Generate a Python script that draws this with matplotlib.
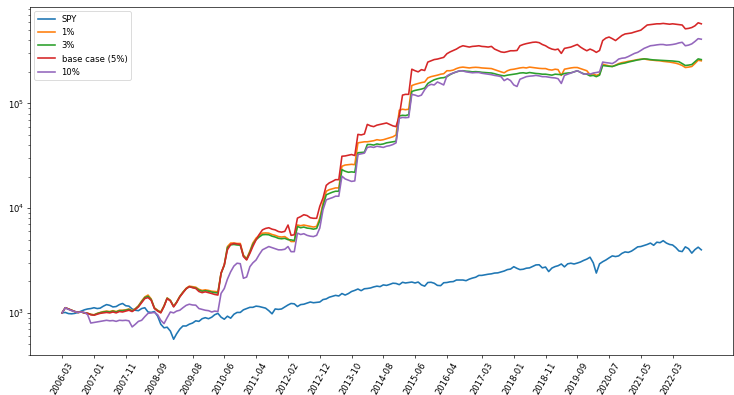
import matplotlib

matplotlib.use("Agg")

import matplotlib.pyplot as plt
import pandas as pd

# Month-start sample dates, 2006-03 through 2022-12
months = pd.date_range("2006-03-01", "2022-12-01", freq="MS")

# Portfolio values, one row per calendar year (2006 starts in March)
spy = [
    1000, 1010, 985, 980, 990, 1010, 1040, 1070, 1090, 1100,
    1120, 1100, 1110, 1160, 1200, 1180, 1140, 1150, 1200, 1230, 1170, 1160,
    1090, 1060, 1050, 1100, 1120, 1020, 1010, 1030, 930, 780, 720, 730,
    670, 560, 630, 700, 750, 750, 780, 800, 840, 830, 880, 900,
    880, 910, 960, 990, 910, 870, 930, 890, 970, 1010, 1010, 1070,
    1100, 1130, 1130, 1160, 1150, 1130, 1110, 1050, 980, 1090, 1080, 1090,
    1140, 1190, 1230, 1220, 1150, 1200, 1210, 1240, 1270, 1250, 1260, 1270,
    1340, 1360, 1410, 1440, 1470, 1450, 1530, 1480, 1530, 1600, 1640, 1690,
    1630, 1700, 1710, 1730, 1770, 1800, 1780, 1850, 1830, 1870, 1920, 1910,
    1860, 1960, 1930, 1950, 1970, 1930, 1970, 1850, 1800, 1950, 1960, 1920,
    1830, 1820, 1940, 1950, 1980, 1990, 2060, 2060, 2060, 2030, 2100, 2150,
    2190, 2280, 2280, 2310, 2340, 2360, 2400, 2410, 2460, 2510, 2590, 2620,
    2760, 2660, 2590, 2610, 2670, 2690, 2780, 2870, 2880, 2690, 2740, 2480,
    2680, 2770, 2820, 2930, 2750, 2940, 2980, 2930, 2990, 3060, 3170, 3260,
    3400, 3000, 2400, 2940, 3080, 3200, 3350, 3500, 3450, 3500, 3700, 3820,
    3780, 3890, 4060, 4270, 4300, 4400, 4500, 4640, 4420, 4730, 4680, 4890,
    4640, 4500, 4450, 4200, 3900, 3850, 4270, 4100, 3720, 4020, 4240, 4000,
]

tax_1 = [
    1000, 1120, 1090, 1060, 1030, 1010, 1020, 1000, 990, 970,
    960, 990, 1010, 1030, 1040, 1030, 1050, 1030, 1060, 1060, 1070, 1090,
    1050, 1100, 1170, 1300, 1420, 1480, 1360, 1120, 1060, 1020, 1170, 1390,
    1320, 1160, 1270, 1440, 1580, 1720, 1800, 1780, 1760, 1680, 1640, 1660,
    1640, 1610, 1600, 1590, 2400, 2900, 4300, 4640, 4650, 4600, 4600, 3570,
    3300, 3900, 4640, 5170, 5500, 5770, 5800, 5770, 5600, 5500, 5350, 5300,
    5350, 5100, 4800, 4800, 6900, 6800, 6900, 6800, 6700, 6600, 6700, 8030,
    11200, 14500, 15000, 15300, 15600, 15600, 25100, 25800, 26000, 26200, 26000, 42000,
    42500, 43000, 43000, 43500, 44000, 45000, 44500, 45000, 46000, 47000, 48000, 50000,
    86000, 88000, 87000, 88000, 148000, 152000, 155000, 158000, 160000, 175000, 180000, 183000,
    186000, 190000, 192000, 205000, 205000, 208000, 215000, 220000, 222000, 220000, 218000, 220000,
    221000, 220000, 218000, 217000, 216000, 215000, 210000, 205000, 200000, 196000, 205000, 210000,
    212000, 215000, 218000, 220000, 218000, 222000, 220000, 218000, 216000, 215000, 215000, 210000,
    208000, 212000, 210000, 185000, 212000, 215000, 218000, 220000, 220000, 215000, 210000, 205000,
    188000, 192000, 185000, 190000, 237000, 232000, 228000, 225000, 232000, 240000, 245000, 248000,
    252000, 255000, 258000, 262000, 264000, 266000, 262000, 260000, 258000, 256000, 255000, 252000,
    250000, 248000, 245000, 242000, 237000, 230000, 220000, 222000, 225000, 240000, 258000, 255000,
]

tax_3 = [
    1000, 1120, 1090, 1060, 1030, 1010, 1020, 1000, 990, 965,
    955, 985, 1005, 1020, 1030, 1020, 1040, 1020, 1050, 1050, 1060, 1080,
    1040, 1090, 1160, 1280, 1400, 1440, 1340, 1110, 1050, 1010, 1160, 1380,
    1310, 1150, 1260, 1430, 1570, 1700, 1780, 1750, 1730, 1650, 1610, 1630,
    1610, 1580, 1560, 1550, 2380, 2850, 4200, 4460, 4500, 4450, 4430, 3500,
    3250, 3800, 4500, 5000, 5300, 5570, 5600, 5570, 5400, 5300, 5150, 5100,
    5150, 5000, 4980, 4900, 6680, 6500, 6600, 6450, 6400, 6300, 6400, 7600,
    10500, 13400, 13800, 14200, 14500, 14500, 23300, 22500, 22000, 22200, 22000, 33800,
    34000, 34200, 40500, 40500, 40000, 41000, 40500, 41000, 42000, 42500, 43000, 43500,
    75800, 77000, 76500, 78000, 130000, 133000, 135000, 137000, 140000, 155000, 162000, 168000,
    172000, 175000, 176000, 180000, 188000, 195000, 200000, 204000, 205000, 203000, 202000, 200000,
    201000, 200000, 198000, 197000, 196000, 195000, 192000, 188000, 185000, 183000, 186000, 188000,
    190000, 192000, 195000, 196000, 194000, 197000, 195000, 193000, 192000, 190000, 190000, 188000,
    186000, 190000, 189000, 188000, 193000, 195000, 196000, 200000, 205000, 198000, 192000, 190000,
    183000, 185000, 180000, 186000, 230000, 228000, 226000, 225000, 230000, 236000, 240000, 243000,
    248000, 252000, 256000, 260000, 263000, 266000, 265000, 262000, 260000, 259000, 258000, 257000,
    256000, 255000, 254000, 252000, 250000, 240000, 230000, 232000, 235000, 250000, 266000, 262000,
]

tax_5 = [
    1000, 1120, 1090, 1060, 1030, 1010, 1020, 1000, 990, 960,
    950, 970, 990, 1000, 1010, 1000, 1020, 1000, 1030, 1020, 1040, 1060,
    1030, 1080, 1140, 1250, 1370, 1400, 1320, 1100, 1040, 1000, 1150, 1370,
    1300, 1140, 1250, 1420, 1550, 1700, 1780, 1740, 1710, 1600, 1560, 1590,
    1560, 1530, 1500, 1480, 2390, 2870, 4000, 4500, 4600, 4550, 4500, 3450,
    3200, 3700, 4300, 4980, 5600, 6200, 6400, 6500, 6300, 6200, 5980, 5900,
    6000, 6900, 5500, 5570, 8030, 8300, 8650, 8500, 8100, 8000, 8000, 10400,
    12500, 16500, 17400, 18000, 18700, 18700, 31300, 31500, 32000, 32500, 31800, 50600,
    50000, 51000, 63000, 61000, 60000, 62000, 63000, 64000, 65000, 63000, 61000, 60000,
    76000, 120000, 122000, 122000, 212000, 205000, 200000, 210000, 206000, 248000, 255000, 262000,
    265000, 270000, 275000, 298000, 310000, 320000, 330000, 345000, 355000, 350000, 345000, 350000,
    352000, 355000, 350000, 348000, 345000, 350000, 330000, 320000, 310000, 307000, 312000, 318000,
    318000, 320000, 355000, 365000, 372000, 378000, 383000, 385000, 380000, 365000, 355000, 340000,
    330000, 325000, 330000, 300000, 335000, 340000, 345000, 355000, 365000, 345000, 330000, 318000,
    330000, 320000, 307000, 320000, 398000, 420000, 430000, 415000, 398000, 420000, 445000, 460000,
    465000, 470000, 480000, 490000, 500000, 530000, 560000, 565000, 570000, 575000, 575000, 580000,
    575000, 570000, 575000, 570000, 565000, 560000, 515000, 520000, 530000, 550000, 588000, 575000,
]

tax_10 = [
    1000, 1120, 1080, 1050, 1030, 1010, 1020, 1010, 960, 800,
    810, 820, 830, 840, 850, 840, 845, 830, 850, 845, 850, 840,
    735, 780, 830, 850, 920, 990, 1000, 1010, 960, 850, 790, 900,
    1020, 1000, 1040, 1060, 1120, 1180, 1210, 1190, 1185, 1100, 1080, 1060,
    1050, 1020, 1040, 1030, 1535, 1710, 2100, 2470, 2800, 2980, 2950, 2140,
    2200, 2760, 3000, 3200, 3600, 4000, 4150, 4300, 4200, 4100, 4000, 4000,
    4050, 4300, 3840, 3840, 5770, 5600, 5700, 5500, 5400, 5350, 5500, 6450,
    9640, 12000, 12300, 12600, 13000, 13000, 20200, 19000, 18500, 18000, 18200, 32500,
    33000, 33500, 38000, 38500, 38000, 39000, 38500, 38000, 39000, 39500, 40500, 42000,
    72000, 73500, 73000, 73500, 122000, 120000, 117000, 120000, 135000, 147000, 152000, 150000,
    160000, 155000, 150000, 183000, 190000, 195000, 200000, 205000, 204000, 200000, 198000, 196000,
    197000, 197000, 194000, 192000, 190000, 188000, 185000, 183000, 180000, 165000, 172000, 165000,
    150000, 145000, 170000, 175000, 180000, 182000, 183000, 185000, 183000, 180000, 180000, 178000,
    176000, 175000, 172000, 155000, 185000, 190000, 195000, 200000, 205000, 198000, 190000, 192000,
    190000, 195000, 197000, 200000, 248000, 245000, 243000, 240000, 250000, 265000, 270000, 272000,
    280000, 290000, 300000, 307000, 320000, 335000, 345000, 355000, 358000, 362000, 365000, 365000,
    360000, 362000, 365000, 370000, 378000, 383000, 355000, 360000, 370000, 390000, 415000, 410000,
]

tick_labels = [
    "2006-03", "2007-01", "2007-11", "2008-09", "2009-08", "2010-06", "2011-04",
    "2012-02", "2012-12", "2013-10", "2014-08", "2015-06", "2016-04", "2017-03",
    "2018-01", "2018-11", "2019-09", "2020-07", "2021-05", "2022-03",
]

series = [
    ("SPY", spy),
    ("1%", tax_1),
    ("3%", tax_3),
    ("base case (5%)", tax_5),
    ("10%", tax_10),
]

fig, ax = plt.subplots(figsize=(12, 6.46), dpi=734 / 12)
for label, values in series:
    ax.plot(months, values, label=label, linewidth=1.9)

ax.set_yscale("log")
tick_dates = pd.to_datetime(tick_labels, format="%Y-%m").to_pydatetime()
ax.set_xticks(tick_dates)
ax.set_xticklabels(tick_labels, rotation=60)
ax.legend(loc="upper left")

fig.subplots_adjust(left=0.041, right=0.999, top=0.982, bottom=0.101)
fig.savefig("out.png")
